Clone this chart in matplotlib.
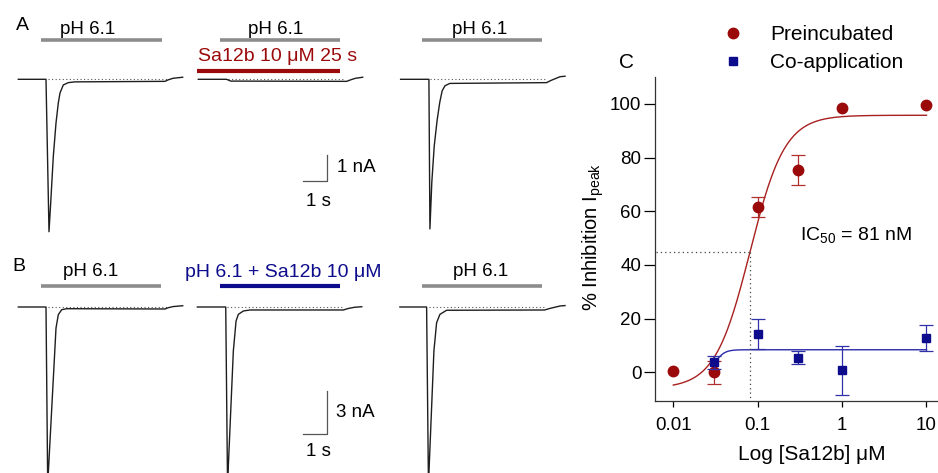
import numpy as np
import matplotlib
matplotlib.use("Agg")
import matplotlib.pyplot as plt

plt.rcParams['font.family'] = ['Liberation Sans', 'DejaVu Sans']
plt.rcParams['mathtext.fontset'] = 'custom'
plt.rcParams['mathtext.rm'] = 'Liberation Sans'
plt.rcParams['mathtext.it'] = 'Liberation Sans:italic'
plt.rcParams['mathtext.bf'] = 'Liberation Sans:bold'

# ---------------- A / B : current traces (t in s from sweep start, I in nA) ----------------
A1_t = [0, 1.154, 1.279, 1.35, 1.458, 1.571, 1.667, 1.738, 1.875, 2.083, 2.36, 6.11, 6.25, 6.45, 6.85]
A1_i = [0, 0, -5.93, -4.81, -3.01, -1.70, -0.92, -0.53, -0.22, -0.13, -0.10, -0.08, -0.02, 0.04, 0.08]
A2_t = [0, 1.18, 1.35, 6.18, 6.35, 6.55, 6.85]
A2_i = [0, 0, -0.07, -0.08, -0.02, 0.04, 0.08]
A3_t = [0, 1.179, 1.221, 1.30, 1.40, 1.52, 1.63, 1.73, 1.85, 2.05, 6.08, 6.25, 6.64, 6.85]
A3_i = [0, 0, -5.82, -4.0, -2.6, -1.6, -0.9, -0.45, -0.25, -0.16, -0.13, -0.05, 0.10, 0.12]

B1_t = [0, 1.154, 1.225, 1.571, 1.667, 1.808, 2.017, 6.11, 6.25, 6.45, 6.85]
B1_i = [0, 0, -12.5, -1.48, -0.54, -0.19, -0.12, -0.14, -0.05, 0.03, 0.09]
B2_t = [0, 1.183, 1.258, 1.5, 1.613, 1.708, 1.917, 2.196, 6.08, 6.3, 6.55, 6.85]
B2_i = [0, 0, -12.5, -3.1, -0.99, -0.52, -0.28, -0.21, -0.21, -0.10, -0.02, 0.02]
B3_t = [0, 1.113, 1.19, 1.417, 1.529, 1.667, 1.946, 6.03, 6.25, 6.67, 6.88]
B3_i = [0, 0, -12.5, -3.1, -1.11, -0.52, -0.23, -0.21, -0.10, 0.07, 0.10]

# start of each sweep inside its row (s)
A_offsets = [0.0, 7.5, 15.93]
B_offsets = [0.0, 7.46, 15.9]

# dotted baseline (s, from sweep start)
A_dots = [(1.24, 6.18), (1.24, 6.11), (1.22, 6.03)]
B_dots = [(1.24, 6.18), (1.23, 6.08), (1.20, 6.00)]

# solution application bars (s, from sweep start)
A_ph_bars = [(0.95, 5.97), (0.90, 5.90), (0.91, 5.89)]
A_toxin_bar = (-0.07, 5.90)
B_ph_bars = [(0.95, 5.95), None, (0.92, 5.92)]
B_coapp_bar = (0.95, 5.95)

# ---------------- C : concentration-response ----------------
pre_conc = [0.01, 0.03, 0.1, 0.3, 1, 10]
pre_mean = [0.3, 0.0, 61.6, 75.4, 98.4, 99.6]
pre_err = [np.nan, 4.3, 3.6, 5.6, np.nan, np.nan]
co_conc = [0.03, 0.1, 0.3, 1, 10]
co_mean = [3.7, 14.2, 5.5, 0.8, 12.7]
co_err = [2.4, 5.5, 2.5, 9.1, 4.8]

# Hill fits: bottom, top, IC50 (uM), slope
pre_fit = (-6.0, 95.8, 0.081, 2.1)
co_fit = (0.0, 8.4, 0.032, 8.0)
ic50_level = 45.0

RED = '#9b0a0a'
BLUE = '#0c0c8c'
GRAY = '#8c8c8c'
TRACE = '#1e1e1e'

W, H = 938, 473
PX_PER_S = 24.0
X0 = 18.3          # px of first sweep start
ROW_W = 570


def hill(x, bottom, top, ic50, n):
    return bottom + (top - bottom) / (1 + (ic50 / x) ** n)


def row_axes(fig, top_px, bottom_px, base_px, px_per_na):
    ax = fig.add_axes([0, 1 - bottom_px / H, ROW_W / W, (bottom_px - top_px) / H])
    ax.set_xlim(-X0 / PX_PER_S, (ROW_W - X0) / PX_PER_S)
    ax.set_ylim(-(bottom_px - base_px) / px_per_na, (base_px - top_px) / px_per_na)
    ax.axis('off')
    return ax


def draw_row(ax, traces, offsets, dots):
    for (t, i), off, (d0, d1) in zip(traces, offsets, dots):
        ax.plot([off + d0, off + d1], [0, 0], color='#555555', lw=0.8,
                linestyle=(0, (1, 2.2)))
        ax.plot(np.array(t) + off, i, color=TRACE, lw=1.0)


def scale_bar(ax, x, y, dt, di, lab_i, s_drop):
    ax.plot([x - dt, x, x], [y, y, y + di], color='#555555', lw=0.9)
    ax.text(x + 0.4, y + di / 2, lab_i, fontsize=13.5, ha='left', va='center')
    ax.text(x - 0.35, y - s_drop, '1 s', fontsize=13.5, ha='center', va='center')


fig = plt.figure(figsize=(W / 100, H / 100), dpi=100)

# ---- row A ----
axA = row_axes(fig, 0, 240, 79.3, 25.7)
draw_row(axA, [(A1_t, A1_i), (A2_t, A2_i), (A3_t, A3_i)], A_offsets, A_dots)
for off, (b0, b1), tc in zip(A_offsets, A_ph_bars, [2.88, 3.23, 3.28]):
    axA.plot([off + b0, off + b1], [1.53, 1.53], color=GRAY, lw=2.6, solid_capstyle='butt')
    axA.text(off + tc, 1.95, 'pH 6.1', fontsize=13.5, ha='center', va='center')
axA.plot([A_offsets[1] + A_toxin_bar[0], A_offsets[1] + A_toxin_bar[1]], [0.32, 0.32],
         color=RED, lw=3.0, solid_capstyle='butt')
axA.text(A_offsets[1] + 3.32, 0.87, 'Sa12b 10 \u03bcM 25 s', color=RED, fontsize=14,
         ha='center', va='center')
scale_bar(axA, 12.875, -3.945, 1.0, 1.0, '1 nA', 0.8)

# ---- row B ----
axB = row_axes(fig, 240, 473, 307.0, 14.2)
draw_row(axB, [(B1_t, B1_i), (B2_t, B2_i), (B3_t, B3_i)], B_offsets, B_dots)
for off, bar, tc in zip(B_offsets, B_ph_bars, [3.0, None, 3.35]):
    if bar is None:
        continue
    axB.plot([off + bar[0], off + bar[1]], [1.48, 1.48], color=GRAY, lw=2.6, solid_capstyle='butt')
    axB.text(off + tc, 2.49, 'pH 6.1', fontsize=13.5, ha='center', va='center')
axB.plot([B_offsets[1] + B_coapp_bar[0], B_offsets[1] + B_coapp_bar[1]], [1.48, 1.48],
         color=BLUE, lw=3.0, solid_capstyle='butt')
axB.text(B_offsets[1] + 3.57, 2.42, 'pH 6.1 + Sa12b 10 \u03bcM', color=BLUE, fontsize=14,
         ha='center', va='center')
scale_bar(axB, 12.85, -8.94, 1.0, 3.0, '3 nA', 1.22)

fig.text(22 / W, 1 - 25 / H, 'A', fontsize=14, ha='center', va='center')
fig.text(18.5 / W, 1 - 266 / H, 'B', fontsize=14, ha='center', va='center')
fig.text(626.7 / W, 1 - 62 / H, 'C', fontsize=15, ha='center', va='center')

# ---- panel C ----
axC = fig.add_axes([654.5 / W, 1 - 401 / H, (W - 654.5) / W, (401 - 77) / H])
axC.set_xscale('log')
axC.set_xlim(0.005988, 13.7)
axC.set_ylim(-10.7, 110.06)
for s in ['top', 'right']:
    axC.spines[s].set_visible(False)
for s in ['left', 'bottom']:
    axC.spines[s].set_linewidth(0.9)
    axC.spines[s].set_color('#333333')

xs = np.logspace(-2, 1, 400)
axC.plot(xs, hill(xs, *pre_fit), color='#a82020', lw=1.0)
xs2 = np.logspace(np.log10(0.03), 1, 400)
axC.plot(xs2, hill(xs2, *co_fit), color='#2a2aaa', lw=1.0)

ic50 = pre_fit[2]
axC.plot([axC.get_xlim()[0] * 1.05, ic50], [ic50_level, ic50_level], color='#444444',
         lw=0.9, linestyle=(0, (1, 2.5)))
axC.plot([ic50, ic50], [ic50_level, axC.get_ylim()[0]], color='#444444',
         lw=0.9, linestyle=(0, (1, 2.5)))

axC.errorbar(pre_conc, pre_mean, yerr=pre_err, fmt='o', color=RED, ecolor='#b03030',
             ms=7.5, elinewidth=0.9, capsize=5, capthick=0.9, label='Preincubated', zorder=3)
axC.errorbar(co_conc, co_mean, yerr=co_err, fmt='s', color=BLUE, ecolor='#3030a8',
             ms=6, elinewidth=0.9, capsize=5, capthick=0.9, label='Co-application', zorder=4)

axC.text(0.32, 51, 'IC$_{50}$ = 81 nM', fontsize=14, ha='left', va='center')

axC.set_xticks([0.01, 0.1, 1, 10])
axC.set_xticklabels(['0.01', '0.1', '1', '10'])
axC.xaxis.set_minor_locator(matplotlib.ticker.NullLocator())
axC.set_yticks([0, 20, 40, 60, 80, 100])
axC.tick_params(axis='y', direction='out', length=8, width=0.9, pad=1.5, labelsize=13.5)
axC.tick_params(axis='x', direction='out', length=4.5, width=0.9, pad=7, labelsize=13.5)

axC.set_xlabel('Log [Sa12b] \u03bcM', fontsize=15)
axC.xaxis.set_label_coords((811.7 - 654.5) / (W - 654.5), (401 - 454.3) / 324)
axC.xaxis.label.set_va('center')
axC.set_ylabel('% Inhibition I$_{\\mathregular{peak}}$', fontsize=14.5)
axC.yaxis.set_label_coords((593 - 654.5) / (W - 654.5), (401 - 237) / 324)
axC.yaxis.label.set_va('center')

handles, labels = axC.get_legend_handles_labels()
handles = [h[0] for h in handles]
axC.legend(handles, labels, loc='upper left', bbox_to_anchor=(722.6 / W, 1 - 25 / H),
           bbox_transform=fig.transFigure, frameon=False, fontsize=15, handlelength=1.0,
           handletextpad=1.28, borderpad=0, borderaxespad=0, labelspacing=0.45, numpoints=1)

fig.savefig('out.png', dpi=100)
